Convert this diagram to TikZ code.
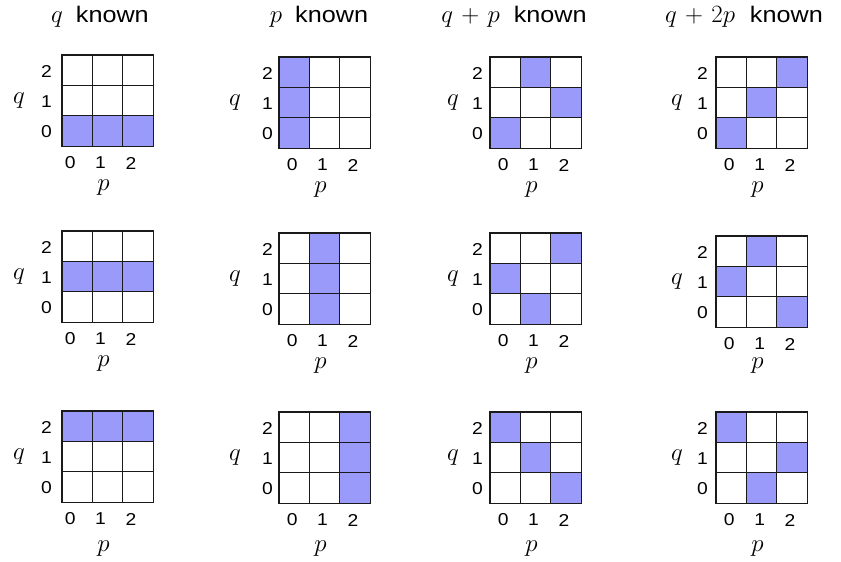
\documentclass[tikz,border=0pt]{standalone}
\usepackage{graphicx}
\usepackage{fontspec}
\setsansfont{Liberation Sans}
\usetikzlibrary{positioning}
\definecolor{hitfill}{HTML}{9A9AFB}
\definecolor{gridline}{HTML}{1A1A1A}
\newcommand{\widen}[1]{\scalebox{1.12}[1]{#1}}
\newcommand{\knownword}{{\sffamily\fontsize{22.5}{22.5}\selectfont\widen{known}}}

\begin{document}
\begin{tikzpicture}[
    x=1pt, y=-1pt,
    tick/.style={font=\sffamily\fontsize{17.2}{17.2}\selectfont, inner sep=0pt},
    axis/.style={font=\fontsize{27}{27}\selectfont, inner sep=0pt},
    head/.style={font=\fontsize{30}{30}\selectfont, inner sep=0pt, anchor=base},
    hit/.style={fill=hitfill},
    gridln/.style={draw=gridline, line width=1.1pt, line cap=rect},
]
\useasboundingbox (0,0) rectangle (841,562);

% ================================================================ titles
\node[head] (title-q)   at (100,23) {$q$\hspace{13pt}\knownword};
\node[head] (title-p)   at (319,23) {$p$\hspace{13pt}\knownword};
\node[head] (title-qp)  at (514,23) {$\medmuskip=6mu q+p$\hspace{14pt}\knownword};
\node[head] (title-q2p) at (744,23) {$\medmuskip=6mu q+2p$\hspace{15pt}\knownword};

% ================================================================ grids
% name / left / top / shaded cells (p/q) / p-tick shift / q-tick gap / q-label gap / p-label drop
\foreach \g/\X/\Y/\cells/\tx/\qt/\ql/\pd in {
    a1/62/55/{0/0,1/0,2/0}/-7/10/43/41,
    b1/279/57/{0/0,0/1,0/2}/-2/6/44/41,
    c1/490/57/{0/0,2/1,1/2}/-2/7/37/41,
    d1/716/57/{0/0,1/1,2/2}/-2/8/39/41,
    a2/62/231/{0/1,1/1,2/1}/-7/10/43/41,
    b2/279/233/{1/0,1/1,1/2}/-2/6/44/41,
    c2/490/233/{1/0,0/1,2/2}/-2/7/37/41,
    d2/716/236/{0/1,2/0,1/2}/-2/8/39/38,
    a3/62/411/{0/2,1/2,2/2}/-7/10/43/46,
    b3/279/412/{2/0,2/1,2/2}/-2/6/44/45,
    c3/490/412/{2/0,1/1,0/2}/-2/7/37/45,
    d3/716/412/{1/0,2/1,0/2}/-2/8/39/45}{
    \foreach \i/\j in \cells{
        \fill[hit] ({\X+30.4*\i}, {\Y+60.8-30.4*\j}) rectangle ++(30.4,30.4);
    }
    \foreach \k in {0,...,3}{
        \draw[gridln] ({\X+30.4*\k}, \Y) -- ++(0,91.2);
        \draw[gridln] (\X, {\Y+30.4*\k}) -- ++(91.2,0);
    }
    \foreach \k in {0,1,2}{
        \node[tick, anchor=east] (\g-q\k) at ({\X-\qt}, {\Y+77-30.4*\k}) {\widen{\k}};
        \node[tick] (\g-p\k) at ({\X+15.2+\tx+30.4*\k}, {\Y+108}) {\widen{\k}};
    }
    \node[axis] (\g-q) at ({\X-\ql}, {\Y+45.6}) {$q$};
    \node[axis] (\g-p) at ({\X+41.6}, {\Y+91.2+\pd}) {$p$};
}

\end{tikzpicture}
\end{document}
